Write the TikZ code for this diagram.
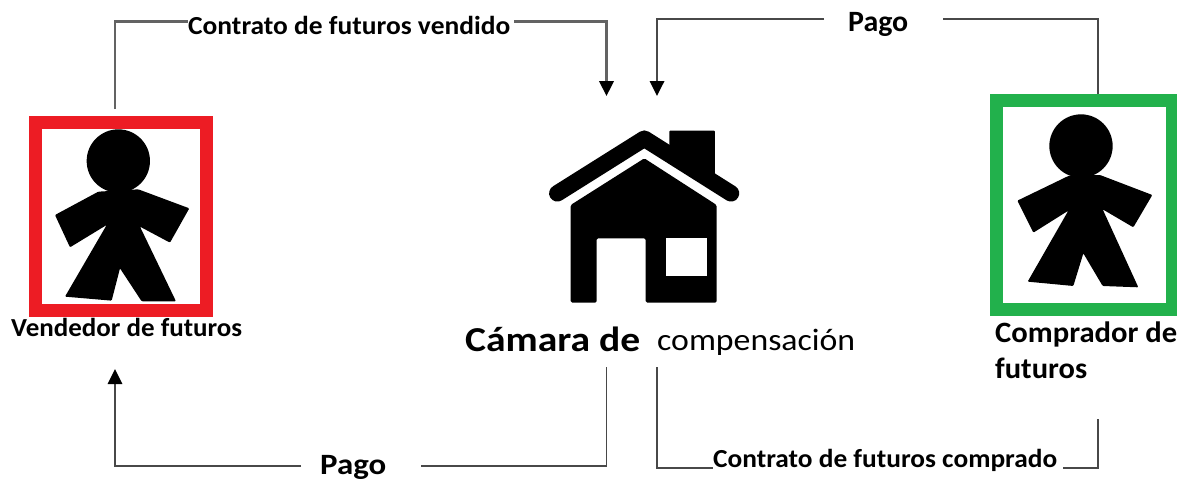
\documentclass[tikz,border=0pt]{standalone}
\usepackage{fontspec}
\usepackage{graphicx}
\setmainfont{Carlito}
\usetikzlibrary{arrows.meta}
\definecolor{vred}{HTML}{ED1C24}
\definecolor{cgreen}{HTML}{22B14C}
\definecolor{linegray}{HTML}{484848}
\newcommand{\fitw}[2]{\resizebox{#1pt}{\height}{#2}}
\tikzset{
  conn/.style={draw=linegray,line width=1.8pt,line join=miter},
  arr/.style={conn,-{Triangle[width=14.5pt,length=15pt,fill=black,color=black]}},
  lab/.style={inner sep=0pt,anchor=base west,text=black,font=\bfseries\fontsize{26}{28}\selectfont},
  bigl/.style={lab,font=\bfseries\fontsize{29.5}{32}\selectfont},
  pbox/.style={draw,line width=13pt,inner sep=0pt,fill=white},
  ink/.style={fill=black,draw=none}
}
\begin{document}
\begin{tikzpicture}[x=1pt,y=-1pt]
\useasboundingbox (0,0) rectangle (1177,480);
\fill[white] (0,0) rectangle (1177,480);
% boxes
\node[pbox,draw=vred,minimum width=170.5pt,minimum height=188pt] (vbox) at (120.75,216) {};
\node[pbox,draw=cgreen,minimum width=176pt,minimum height=209pt] (cbox) at (1084.5,205) {};
% left person
\begin{scope}[shift={(0,90)},x=0.3333pt,y=-0.3333pt]
\fill[black] (355,213) circle[radius=95];
\path[ink,rounded corners=1pt] (295,305)--(165,375)--(210,472)--(320,405)--(195,620)--(335,632)--(360,535)--(425,634)--(528,634)--(420,410)--(510,458)--(568,355)--(415,298)--cycle;
\end{scope}
% right person
\begin{scope}[shift={(970,80)},x=0.3333pt,y=-0.3333pt]
\fill[black] (333,198) circle[radius=95];
\path[ink,rounded corners=1pt] (295,288)--(142,362)--(190,458)--(295,392)--(173,605)--(310,618)--(340,520)--(398,618)--(505,622)--(398,388)--(490,442)--(547,345)--(390,285)--cycle;
\end{scope}
% house
\begin{scope}[shift={(530,110)},x=0.3333pt,y=-0.3333pt]
\path[ink,rounded corners=1pt] (418,62)--(555,62)--(555,205)--(418,110)--cycle;
\draw[black,line width=16.5pt,line cap=round,line join=round] (82,250)--(343,86)--(603,250);
\path[ink,rounded corners=1.5pt] (122,285)--(343,145)--(560,285)--(560,578)--(347,578)--(347,385)--(200,385)--(200,578)--(122,578)--cycle;
\fill[white] (407,385) rectangle (532,498);
\end{scope}
% labels
\node[lab] (lblV) at (188,34.5) {\fitw{322}{Contrato de futuros vendido}};
\node[bigl] (pagoT) at (848,31) {\fitw{60}{Pago}};
\node[bigl] (pagoB) at (320,474) {\fitw{66}{Pago}};
\node[lab] (lblC) at (713,467) {\fitw{344}{Contrato de futuros comprado}};
\node[lab] (vend) at (11,336) {\fitw{231}{Vendedor de futuros}};
\node[bigl] (comp1) at (995,342) {\fitw{182}{Comprador de}};
\node[bigl] (comp2) at (995,378) {\fitw{92}{futuros}};
\node[lab,font=\bfseries\fontsize{35}{38}\selectfont] (cam) at (465,351) {\fitw{175}{Cámara de}};
\node[lab,font=\fontsize{31}{34}\selectfont] (compe) at (657,350) {\fitw{198}{compensación}};
% connector corners and free ends
\coordinate (vUp) at (115,109);
\coordinate (cornerA) at (115,21.5);
\coordinate (cornerB) at (606.5,21.5);
\coordinate (tipA) at (606.5,96);
\coordinate (cornerC) at (1098,19);
\coordinate (cornerD) at (657,19);
\coordinate (tipB) at (657,96);
\coordinate (camDown) at (606.5,367);
\coordinate (cornerE) at (606.5,466);
\coordinate (cornerF) at (115,466);
\coordinate (tipC) at (115,369);
\coordinate (compeDown) at (657,367);
\coordinate (cornerG) at (657,468);
\coordinate (cornerH) at (1098,468);
\coordinate (endH) at (1098,419);
% connectors
\draw[conn,line width=2.2pt,draw=linegray!85] (vUp) -- (cornerA) -- (cornerA -| lblV.west);
\draw[arr,line width=2.2pt,draw=linegray!85] ([xshift=4pt]lblV.east |- cornerB) -- (cornerB) -- (tipA);
\draw[conn] (cbox.north -| cornerC) -- (cornerC) -- ([xshift=35pt]pagoT.east |- cornerC);
\draw[arr] ([xshift=-24pt]pagoT.west |- cornerD) -- (cornerD) -- (tipB);
\draw[conn] (camDown) -- (cornerE) -- ([xshift=35pt]pagoB.east |- cornerE);
\draw[arr] ([xshift=-19pt]pagoB.west |- cornerF) -- (cornerF) -- (tipC);
\draw[conn] (compeDown) -- (cornerG) -- (cornerG -| lblC.west);
\draw[conn] ([xshift=6pt]lblC.east |- cornerH) -- (cornerH) -- (endH);
\end{tikzpicture}
\end{document}
